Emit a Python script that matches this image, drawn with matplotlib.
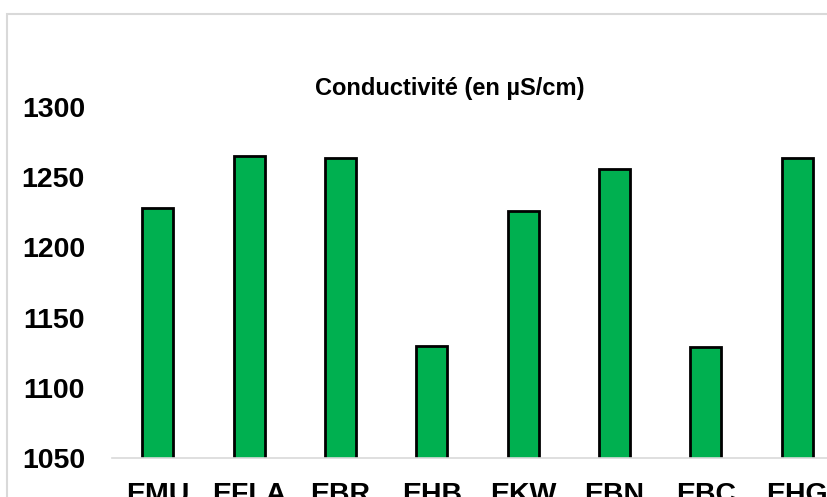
import numpy as np
import matplotlib.pyplot as plt
from matplotlib.patches import Rectangle

# Conductivité mesurée par station
stations = ["EMU", "EFLA", "EBR", "EHB", "EKW", "EBN", "EBC", "EHG"]
conductivite = [1228, 1265, 1264, 1130, 1226, 1256, 1129, 1264]
y_ticks = [1050, 1100, 1150, 1200, 1250, 1300]

plt.rcParams["font.family"] = ["Liberation Sans", "DejaVu Sans"]

W, H = 827, 497
fig = plt.figure(figsize=(W / 100, H / 100), dpi=100)

# cadre gris du graphique
fig.patches.append(Rectangle((7 / W, -0.1), 1.1, (H - 14) / H + 0.1,
                             transform=fig.transFigure, fill=False,
                             edgecolor="#D9D9D9", linewidth=1.5))

# zone de tracé (déborde un peu à droite)
ax = fig.add_axes([112 / W, (H - 458) / H, 731 / W, 351 / H])
x = np.arange(len(stations))
ax.bar(x, conductivite, width=0.34, color="#00B050", edgecolor="black",
       linewidth=2, zorder=2)

ax.set_xlim(-0.5, len(stations) - 0.5)
ax.set_ylim(1050, 1300)
ax.set_yticks(y_ticks)
ax.set_xticks(x)
ax.set_xticklabels(stations)

for s in ["top", "right", "left"]:
    ax.spines[s].set_visible(False)
ax.spines["bottom"].set_color("#D9D9D9")
ax.spines["bottom"].set_linewidth(1.2)
ax.spines["bottom"].set_zorder(3)

ax.tick_params(axis="both", length=0, labelsize=20.5)
ax.tick_params(axis="x", pad=17)
ax.tick_params(axis="y", pad=19.5)
for lab in ax.get_xticklabels() + ax.get_yticklabels():
    lab.set_fontweight("heavy")

fig.text(450 / W, 1 - 89 / H, "Conductivité (en µS/cm)", ha="center",
         va="center", fontsize=17, fontweight="bold")

fig.savefig("out.png", dpi=100)
